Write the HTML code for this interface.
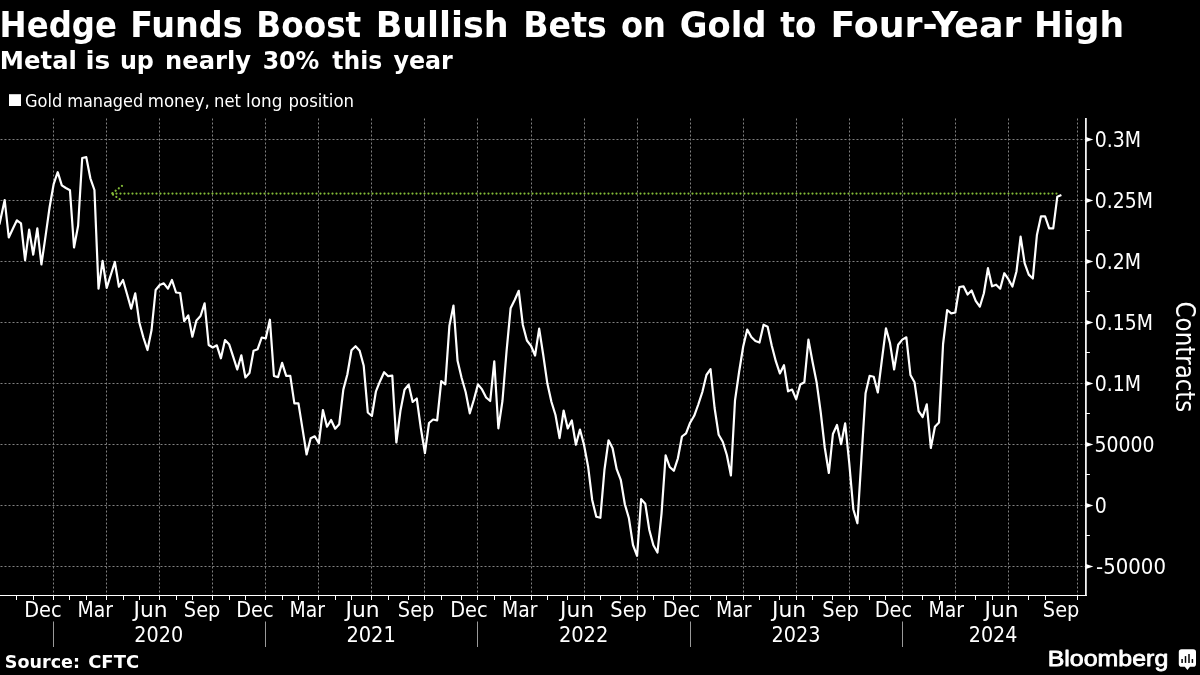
<!DOCTYPE html>
<html lang="en"><head><meta charset="utf-8"><title>Hedge Funds Boost Bullish Bets on Gold to Four-Year High</title>
<style>html,body{margin:0;padding:0;background:#000;overflow:hidden}svg{display:block}text{font-family:'DejaVu Sans Condensed', 'DejaVu Sans', 'Liberation Sans', sans-serif;fill:#fff;white-space:pre}</style>
</head><body>
<svg width="1200" height="675" viewBox="0 0 1200 675">
<rect width="1200" height="675" fill="#000"/>
<!-- headline -->
<text y="37.10" font-size="36.00" font-weight="bold"><tspan x="-0.38" textLength="117.33" lengthAdjust="spacingAndGlyphs">Hedge</tspan> <tspan x="130.28" textLength="112.29" lengthAdjust="spacingAndGlyphs">Funds</tspan> <tspan x="256.34" textLength="104.89" lengthAdjust="spacingAndGlyphs">Boost</tspan> <tspan x="375.65" textLength="132.96" lengthAdjust="spacingAndGlyphs">Bullish</tspan> <tspan x="523.30" textLength="83.52" lengthAdjust="spacingAndGlyphs">Bets</tspan> <tspan x="620.93" textLength="44.99" lengthAdjust="spacingAndGlyphs">on</tspan> <tspan x="679.75" textLength="86.79" lengthAdjust="spacingAndGlyphs">Gold</tspan> <tspan x="780.16" textLength="36.16" lengthAdjust="spacingAndGlyphs">to</tspan> <tspan x="830.52" textLength="190.99" lengthAdjust="spacingAndGlyphs">Four-Year</tspan> <tspan x="1033.93" textLength="90.15" lengthAdjust="spacingAndGlyphs">High</tspan></text>
<text y="68.60" font-size="25.30" font-weight="bold"><tspan x="-0.16" textLength="77.00" lengthAdjust="spacingAndGlyphs">Metal</tspan> <tspan x="85.44" textLength="24.86" lengthAdjust="spacingAndGlyphs">is</tspan> <tspan x="119.90" textLength="34.00" lengthAdjust="spacingAndGlyphs">up</tspan> <tspan x="165.12" textLength="85.80" lengthAdjust="spacingAndGlyphs">nearly</tspan> <tspan x="262.67" textLength="56.64" lengthAdjust="spacingAndGlyphs">30%</tspan> <tspan x="332.24" textLength="49.94" lengthAdjust="spacingAndGlyphs">this</tspan> <tspan x="393.49" textLength="59.35" lengthAdjust="spacingAndGlyphs">year</tspan></text>
<!-- legend -->
<rect x="9" y="94.2" width="12" height="11.8" fill="#fff"/>
<text y="106.80" font-size="17.60" font-weight="normal" fill="#f2f2f2"><tspan x="24.90" textLength="37.32" lengthAdjust="spacingAndGlyphs">Gold</tspan> <tspan x="67.27" textLength="75.93" lengthAdjust="spacingAndGlyphs">managed</tspan> <tspan x="147.78" textLength="62.00" lengthAdjust="spacingAndGlyphs">money,</tspan> <tspan x="214.04" textLength="26.94" lengthAdjust="spacingAndGlyphs">net</tspan> <tspan x="246.00" textLength="36.32" lengthAdjust="spacingAndGlyphs">long</tspan> <tspan x="288.53" textLength="65.57" lengthAdjust="spacingAndGlyphs">position</tspan></text>
<!-- grid -->
<g stroke="#808080" stroke-width="1" stroke-dasharray="2 2" stroke-dashoffset="3.5" fill="none">
<line x1="0" y1="139.5" x2="1084.9" y2="139.5"/>
<line x1="0" y1="200.5" x2="1084.9" y2="200.5"/>
<line x1="0" y1="261.5" x2="1084.9" y2="261.5"/>
<line x1="0" y1="322.5" x2="1084.9" y2="322.5"/>
<line x1="0" y1="383.5" x2="1084.9" y2="383.5"/>
<line x1="0" y1="444.5" x2="1084.9" y2="444.5"/>
<line x1="0" y1="505.5" x2="1084.9" y2="505.5"/>
<line x1="0" y1="566.5" x2="1084.9" y2="566.5"/>
<line x1="53.50" y1="118.0" x2="53.50" y2="595.5"/>
<line x1="106.50" y1="118.0" x2="106.50" y2="595.5"/>
<line x1="159.50" y1="118.0" x2="159.50" y2="595.5"/>
<line x1="212.50" y1="118.0" x2="212.50" y2="595.5"/>
<line x1="265.50" y1="118.0" x2="265.50" y2="595.5"/>
<line x1="318.50" y1="118.0" x2="318.50" y2="595.5"/>
<line x1="371.50" y1="118.0" x2="371.50" y2="595.5"/>
<line x1="424.50" y1="118.0" x2="424.50" y2="595.5"/>
<line x1="477.50" y1="118.0" x2="477.50" y2="595.5"/>
<line x1="531.50" y1="118.0" x2="531.50" y2="595.5"/>
<line x1="584.50" y1="118.0" x2="584.50" y2="595.5"/>
<line x1="637.50" y1="118.0" x2="637.50" y2="595.5"/>
<line x1="690.50" y1="118.0" x2="690.50" y2="595.5"/>
<line x1="743.50" y1="118.0" x2="743.50" y2="595.5"/>
<line x1="796.50" y1="118.0" x2="796.50" y2="595.5"/>
<line x1="849.50" y1="118.0" x2="849.50" y2="595.5"/>
<line x1="902.50" y1="118.0" x2="902.50" y2="595.5"/>
<line x1="955.50" y1="118.0" x2="955.50" y2="595.5"/>
<line x1="1008.50" y1="118.0" x2="1008.50" y2="595.5"/>
<line x1="1077.50" y1="118.0" x2="1077.50" y2="595.5"/>
</g>
<!-- four-year-high marker -->
<g stroke="#84bd38" stroke-width="2.2" stroke-linecap="round" stroke-dasharray="0.01 3.99" fill="none">
<line x1="1056.5" y1="193.6" x2="112" y2="193.6"/>
<line x1="112.5" y1="193.2" x2="122.5" y2="185.4"/>
<line x1="113" y1="194.6" x2="120.5" y2="199.6"/>
</g>
<!-- series -->
<path d="M-0.60 224.60 L0.60 219.00 L4.68 200.00 L8.76 237.50 L12.84 228.80 L16.92 220.30 L21.00 223.30 L25.08 260.20 L29.16 229.70 L33.24 254.70 L37.32 228.30 L41.40 264.50 L45.48 236.70 L49.56 207.50 L53.64 184.20 L57.72 172.20 L61.80 185.30 L65.88 188.00 L69.96 190.30 L74.04 247.50 L78.12 225.80 L82.20 158.00 L86.28 157.20 L90.36 178.30 L94.44 190.00 L98.52 288.70 L102.60 260.80 L106.68 287.80 L110.76 275.00 L114.84 262.00 L118.92 286.70 L123.00 280.00 L127.08 294.20 L131.16 308.70 L135.24 293.30 L139.32 322.50 L143.40 337.50 L147.48 350.00 L151.56 330.00 L155.64 290.00 L159.72 285.00 L163.80 283.30 L167.88 288.70 L171.96 280.00 L176.04 292.50 L180.12 293.00 L184.20 321.20 L188.28 315.40 L192.36 336.70 L196.44 320.40 L200.52 316.00 L204.60 303.30 L208.68 345.00 L212.76 347.50 L216.84 345.30 L220.92 358.30 L225.00 340.00 L229.08 344.20 L233.16 356.70 L237.24 369.50 L241.32 355.30 L245.40 377.50 L249.48 373.10 L253.56 350.80 L257.64 349.20 L261.72 337.50 L265.80 338.30 L269.88 319.70 L273.96 376.00 L278.04 377.10 L282.12 362.80 L286.20 375.80 L290.28 375.80 L294.36 403.30 L298.44 403.30 L302.52 428.80 L306.60 454.50 L310.68 438.30 L314.76 436.30 L318.84 443.30 L322.92 410.00 L327.00 426.70 L331.08 420.00 L335.16 428.70 L339.24 424.20 L343.32 389.60 L347.40 374.20 L351.48 350.30 L355.56 346.20 L359.64 350.80 L363.72 365.80 L367.80 412.50 L371.88 416.00 L375.96 391.30 L380.04 381.20 L384.12 372.20 L388.20 376.20 L392.28 375.60 L396.36 442.50 L400.44 410.80 L404.52 389.80 L408.60 384.60 L412.68 402.00 L416.76 398.50 L420.84 428.30 L424.92 453.00 L429.00 423.00 L433.08 419.50 L437.16 420.30 L441.24 381.20 L445.32 384.40 L449.40 325.80 L453.48 305.50 L457.56 360.80 L461.64 378.00 L465.72 392.20 L469.80 413.30 L473.88 399.70 L477.96 384.40 L482.04 389.40 L486.12 397.50 L490.20 401.00 L494.28 361.30 L498.36 428.30 L502.44 401.00 L506.52 351.70 L510.60 308.30 L514.68 300.00 L518.76 290.80 L522.84 325.00 L526.92 340.50 L531.00 345.80 L535.08 355.50 L539.16 328.70 L543.24 355.00 L547.32 383.30 L551.40 401.70 L555.48 415.00 L559.56 438.10 L563.64 410.50 L567.72 428.50 L571.80 420.50 L575.88 444.70 L579.96 429.50 L584.04 445.00 L588.12 466.70 L592.20 500.00 L596.28 516.70 L600.36 517.80 L604.44 470.00 L608.52 440.30 L612.60 448.30 L616.68 469.20 L620.76 479.80 L624.84 504.20 L628.92 518.30 L633.00 545.00 L637.08 555.80 L641.16 499.20 L645.24 503.70 L649.32 530.00 L653.40 545.30 L657.48 552.50 L661.56 513.30 L665.64 455.30 L669.72 467.00 L673.80 470.80 L677.88 458.30 L681.96 436.50 L686.04 433.30 L690.12 422.70 L694.20 415.80 L698.28 404.50 L702.36 392.00 L706.44 375.00 L710.52 369.20 L714.60 408.00 L718.68 434.80 L722.76 441.80 L726.84 455.00 L730.92 475.50 L735.00 400.50 L739.08 372.00 L743.16 346.70 L747.24 329.50 L751.32 337.00 L755.40 341.00 L759.48 342.50 L763.56 324.70 L767.64 326.70 L771.72 345.50 L775.80 361.20 L779.88 373.50 L783.96 365.20 L788.04 391.30 L792.12 389.60 L796.20 399.30 L800.28 384.50 L804.36 382.20 L808.44 339.60 L812.52 361.70 L816.60 382.20 L820.68 412.00 L824.76 447.50 L828.84 473.00 L832.92 434.00 L837.00 425.00 L841.08 444.20 L845.16 423.30 L849.24 463.00 L853.32 509.20 L857.40 523.30 L861.48 457.50 L865.56 393.30 L869.64 375.80 L873.72 376.70 L877.80 392.50 L881.88 360.00 L885.96 328.30 L890.04 343.30 L894.12 369.50 L898.20 344.70 L902.28 339.60 L906.36 337.30 L910.44 375.00 L914.52 382.20 L918.60 411.20 L922.68 417.00 L926.76 404.30 L930.84 448.00 L934.92 426.70 L939.00 422.50 L943.08 344.00 L947.16 310.00 L951.24 313.30 L955.32 312.50 L959.40 287.00 L963.48 286.30 L967.56 294.50 L971.64 290.50 L975.72 300.80 L979.80 306.70 L983.88 293.30 L987.96 268.20 L992.04 286.30 L996.12 284.70 L1000.20 288.70 L1004.28 273.20 L1008.36 279.20 L1012.44 286.50 L1016.52 271.20 L1020.60 236.70 L1024.68 263.30 L1028.76 274.60 L1032.84 278.50 L1036.92 235.00 L1041.00 216.30 L1045.08 216.30 L1049.16 228.30 L1053.24 228.30 L1057.32 196.70 L1061.40 195.00" fill="none" stroke="#fff" stroke-width="2.2" stroke-linejoin="round" stroke-linecap="butt"/>
<!-- axes -->
<g stroke="#fff" fill="none">
<line x1="1085.90" y1="118.0" x2="1085.90" y2="596.1" stroke-width="1.7"/>
<line x1="0" y1="595.5" x2="1086.8" y2="595.5" stroke-width="1.2"/>
<line x1="16.50" y1="595.5" x2="16.50" y2="600.0" stroke-width="1"/>
<line x1="33.50" y1="595.5" x2="33.50" y2="600.0" stroke-width="1"/>
<line x1="53.50" y1="595.5" x2="53.50" y2="600.0" stroke-width="1"/>
<line x1="69.50" y1="595.5" x2="69.50" y2="600.0" stroke-width="1"/>
<line x1="86.50" y1="595.5" x2="86.50" y2="600.0" stroke-width="1"/>
<line x1="106.50" y1="595.5" x2="106.50" y2="600.0" stroke-width="1"/>
<line x1="123.50" y1="595.5" x2="123.50" y2="600.0" stroke-width="1"/>
<line x1="139.50" y1="595.5" x2="139.50" y2="600.0" stroke-width="1"/>
<line x1="159.50" y1="595.5" x2="159.50" y2="600.0" stroke-width="1"/>
<line x1="176.50" y1="595.5" x2="176.50" y2="600.0" stroke-width="1"/>
<line x1="192.50" y1="595.5" x2="192.50" y2="600.0" stroke-width="1"/>
<line x1="212.50" y1="595.5" x2="212.50" y2="600.0" stroke-width="1"/>
<line x1="229.50" y1="595.5" x2="229.50" y2="600.0" stroke-width="1"/>
<line x1="245.50" y1="595.5" x2="245.50" y2="600.0" stroke-width="1"/>
<line x1="265.50" y1="595.5" x2="265.50" y2="600.0" stroke-width="1"/>
<line x1="282.50" y1="595.5" x2="282.50" y2="600.0" stroke-width="1"/>
<line x1="298.50" y1="595.5" x2="298.50" y2="600.0" stroke-width="1"/>
<line x1="318.50" y1="595.5" x2="318.50" y2="600.0" stroke-width="1"/>
<line x1="335.50" y1="595.5" x2="335.50" y2="600.0" stroke-width="1"/>
<line x1="351.50" y1="595.5" x2="351.50" y2="600.0" stroke-width="1"/>
<line x1="371.50" y1="595.5" x2="371.50" y2="600.0" stroke-width="1"/>
<line x1="388.50" y1="595.5" x2="388.50" y2="600.0" stroke-width="1"/>
<line x1="408.50" y1="595.5" x2="408.50" y2="600.0" stroke-width="1"/>
<line x1="424.50" y1="595.5" x2="424.50" y2="600.0" stroke-width="1"/>
<line x1="441.50" y1="595.5" x2="441.50" y2="600.0" stroke-width="1"/>
<line x1="461.50" y1="595.5" x2="461.50" y2="600.0" stroke-width="1"/>
<line x1="477.50" y1="595.5" x2="477.50" y2="600.0" stroke-width="1"/>
<line x1="494.50" y1="595.5" x2="494.50" y2="600.0" stroke-width="1"/>
<line x1="510.50" y1="595.5" x2="510.50" y2="600.0" stroke-width="1"/>
<line x1="531.50" y1="595.5" x2="531.50" y2="600.0" stroke-width="1"/>
<line x1="547.50" y1="595.5" x2="547.50" y2="600.0" stroke-width="1"/>
<line x1="567.50" y1="595.5" x2="567.50" y2="600.0" stroke-width="1"/>
<line x1="584.50" y1="595.5" x2="584.50" y2="600.0" stroke-width="1"/>
<line x1="600.50" y1="595.5" x2="600.50" y2="600.0" stroke-width="1"/>
<line x1="620.50" y1="595.5" x2="620.50" y2="600.0" stroke-width="1"/>
<line x1="637.50" y1="595.5" x2="637.50" y2="600.0" stroke-width="1"/>
<line x1="653.50" y1="595.5" x2="653.50" y2="600.0" stroke-width="1"/>
<line x1="673.50" y1="595.5" x2="673.50" y2="600.0" stroke-width="1"/>
<line x1="690.50" y1="595.5" x2="690.50" y2="600.0" stroke-width="1"/>
<line x1="710.50" y1="595.5" x2="710.50" y2="600.0" stroke-width="1"/>
<line x1="726.50" y1="595.5" x2="726.50" y2="600.0" stroke-width="1"/>
<line x1="743.50" y1="595.5" x2="743.50" y2="600.0" stroke-width="1"/>
<line x1="759.50" y1="595.5" x2="759.50" y2="600.0" stroke-width="1"/>
<line x1="779.50" y1="595.5" x2="779.50" y2="600.0" stroke-width="1"/>
<line x1="796.50" y1="595.5" x2="796.50" y2="600.0" stroke-width="1"/>
<line x1="812.50" y1="595.5" x2="812.50" y2="600.0" stroke-width="1"/>
<line x1="832.50" y1="595.5" x2="832.50" y2="600.0" stroke-width="1"/>
<line x1="849.50" y1="595.5" x2="849.50" y2="600.0" stroke-width="1"/>
<line x1="869.50" y1="595.5" x2="869.50" y2="600.0" stroke-width="1"/>
<line x1="885.50" y1="595.5" x2="885.50" y2="600.0" stroke-width="1"/>
<line x1="902.50" y1="595.5" x2="902.50" y2="600.0" stroke-width="1"/>
<line x1="922.50" y1="595.5" x2="922.50" y2="600.0" stroke-width="1"/>
<line x1="939.50" y1="595.5" x2="939.50" y2="600.0" stroke-width="1"/>
<line x1="955.50" y1="595.5" x2="955.50" y2="600.0" stroke-width="1"/>
<line x1="975.50" y1="595.5" x2="975.50" y2="600.0" stroke-width="1"/>
<line x1="992.50" y1="595.5" x2="992.50" y2="600.0" stroke-width="1"/>
<line x1="1008.50" y1="595.5" x2="1008.50" y2="600.0" stroke-width="1"/>
<line x1="1028.50" y1="595.5" x2="1028.50" y2="600.0" stroke-width="1"/>
<line x1="1045.50" y1="595.5" x2="1045.50" y2="600.0" stroke-width="1"/>
<line x1="1077.50" y1="595.5" x2="1077.50" y2="600.0" stroke-width="1"/>
<line x1="1085.9" y1="169.5" x2="1089.9" y2="169.5" stroke-width="1"/>
<line x1="1085.9" y1="230.5" x2="1089.9" y2="230.5" stroke-width="1"/>
<line x1="1085.9" y1="291.5" x2="1089.9" y2="291.5" stroke-width="1"/>
<line x1="1085.9" y1="352.5" x2="1089.9" y2="352.5" stroke-width="1"/>
<line x1="1085.9" y1="413.5" x2="1089.9" y2="413.5" stroke-width="1"/>
<line x1="1085.9" y1="474.5" x2="1089.9" y2="474.5" stroke-width="1"/>
<line x1="1085.9" y1="535.5" x2="1089.9" y2="535.5" stroke-width="1"/>
</g>
<g stroke="#9a9a9a" stroke-width="1" fill="none">
<line x1="53.50" y1="621.5" x2="53.50" y2="647"/>
<line x1="265.50" y1="621.5" x2="265.50" y2="647"/>
<line x1="477.50" y1="621.5" x2="477.50" y2="647"/>
<line x1="690.50" y1="621.5" x2="690.50" y2="647"/>
<line x1="902.50" y1="621.5" x2="902.50" y2="647"/>
</g>
<!-- y axis labels -->
<path d="M1085.9 136.9 L1093.4 139.5 L1085.9 142.1 Z" fill="#fff"/>
<text y="147.3" font-size="21"><tspan x="1094.75" textLength="46.37" lengthAdjust="spacingAndGlyphs">0.3M</tspan></text>
<path d="M1085.9 197.9 L1093.4 200.5 L1085.9 203.1 Z" fill="#fff"/>
<text y="208.3" font-size="21"><tspan x="1094.75" textLength="58.15" lengthAdjust="spacingAndGlyphs">0.25M</tspan></text>
<path d="M1085.9 258.9 L1093.4 261.5 L1085.9 264.1 Z" fill="#fff"/>
<text y="269.3" font-size="21"><tspan x="1094.75" textLength="46.37" lengthAdjust="spacingAndGlyphs">0.2M</tspan></text>
<path d="M1085.9 319.9 L1093.4 322.5 L1085.9 325.1 Z" fill="#fff"/>
<text y="330.3" font-size="21"><tspan x="1094.75" textLength="58.15" lengthAdjust="spacingAndGlyphs">0.15M</tspan></text>
<path d="M1085.9 380.9 L1093.4 383.5 L1085.9 386.1 Z" fill="#fff"/>
<text y="391.3" font-size="21"><tspan x="1094.75" textLength="46.37" lengthAdjust="spacingAndGlyphs">0.1M</tspan></text>
<path d="M1085.9 441.9 L1093.4 444.5 L1085.9 447.1 Z" fill="#fff"/>
<text y="452.3" font-size="21"><tspan x="1094.54" textLength="59.95" lengthAdjust="spacingAndGlyphs">50000</tspan></text>
<path d="M1085.9 502.9 L1093.4 505.5 L1085.9 508.1 Z" fill="#fff"/>
<text y="513.3" font-size="21"><tspan x="1094.75" textLength="12.05" lengthAdjust="spacingAndGlyphs">0</tspan></text>
<path d="M1085.9 563.9 L1093.4 566.5 L1085.9 569.1 Z" fill="#fff"/>
<text y="574.3" font-size="21"><tspan x="1096.12" textLength="69.82" lengthAdjust="spacingAndGlyphs">-50000</tspan></text>
<!-- x axis labels -->
<text y="617.1" font-size="21"><tspan x="24.18" textLength="37.50" lengthAdjust="spacingAndGlyphs">Dec</tspan> <tspan x="77.53" textLength="35.45" lengthAdjust="spacingAndGlyphs">Mar</tspan> <tspan x="133.61" textLength="34.09" lengthAdjust="spacingAndGlyphs">Jun</tspan> <tspan x="183.88" textLength="36.46" lengthAdjust="spacingAndGlyphs">Sep</tspan> <tspan x="236.18" textLength="37.50" lengthAdjust="spacingAndGlyphs">Dec</tspan> <tspan x="289.53" textLength="35.45" lengthAdjust="spacingAndGlyphs">Mar</tspan> <tspan x="345.61" textLength="34.09" lengthAdjust="spacingAndGlyphs">Jun</tspan> <tspan x="397.88" textLength="36.46" lengthAdjust="spacingAndGlyphs">Sep</tspan> <tspan x="450.18" textLength="37.50" lengthAdjust="spacingAndGlyphs">Dec</tspan> <tspan x="502.03" textLength="35.45" lengthAdjust="spacingAndGlyphs">Mar</tspan> <tspan x="560.11" textLength="34.09" lengthAdjust="spacingAndGlyphs">Jun</tspan> <tspan x="610.38" textLength="36.46" lengthAdjust="spacingAndGlyphs">Sep</tspan> <tspan x="662.68" textLength="37.50" lengthAdjust="spacingAndGlyphs">Dec</tspan> <tspan x="716.03" textLength="35.45" lengthAdjust="spacingAndGlyphs">Mar</tspan> <tspan x="772.11" textLength="34.09" lengthAdjust="spacingAndGlyphs">Jun</tspan> <tspan x="822.38" textLength="36.46" lengthAdjust="spacingAndGlyphs">Sep</tspan> <tspan x="874.68" textLength="37.50" lengthAdjust="spacingAndGlyphs">Dec</tspan> <tspan x="928.53" textLength="35.45" lengthAdjust="spacingAndGlyphs">Mar</tspan> <tspan x="984.61" textLength="34.09" lengthAdjust="spacingAndGlyphs">Jun</tspan> <tspan x="1042.88" textLength="36.46" lengthAdjust="spacingAndGlyphs">Sep</tspan></text>
<text y="642.2" font-size="21"><tspan x="134.32" textLength="48.79" lengthAdjust="spacingAndGlyphs">2020</tspan> <tspan x="346.40" textLength="49.47" lengthAdjust="spacingAndGlyphs">2021</tspan> <tspan x="558.90" textLength="49.47" lengthAdjust="spacingAndGlyphs">2022</tspan> <tspan x="771.42" textLength="49.02" lengthAdjust="spacingAndGlyphs">2023</tspan> <tspan x="968.83" textLength="48.57" lengthAdjust="spacingAndGlyphs">2024</tspan></text>
<text transform="translate(1175.9 302.8) rotate(90)" font-size="26.4"><tspan x="-1.28" textLength="110.77" lengthAdjust="spacingAndGlyphs">Contracts</tspan></text>
<!-- footer -->
<text y="667.80" font-size="17.00" font-weight="bold"><tspan x="4.83" textLength="75.22" lengthAdjust="spacingAndGlyphs">Source:</tspan> <tspan x="88.20" textLength="50.90" lengthAdjust="spacingAndGlyphs">CFTC</tspan></text>
<text x="1047.7" y="666.4" font-size="22.4" textLength="120.6" lengthAdjust="spacingAndGlyphs" stroke="#fff" stroke-width="0.8" stroke-linejoin="round" style="font-family:'Liberation Sans',sans-serif">Bloomberg</text>
<g>
<path d="M1181.6 649.3 h11.6 a2.8 2.8 0 0 1 2.8 2.8 v11.8 a2.8 2.8 0 0 1 -2.8 2.8 h-3.2 l-2.6 3.3 l-2.6 -3.3 h-3.2 a2.8 2.8 0 0 1 -2.8 -2.8 v-11.8 a2.8 2.8 0 0 1 2.8 -2.8 z" fill="#fff"/>
<g stroke="#000" stroke-width="1.5" stroke-linecap="butt"><line x1="1182.1" y1="659" x2="1182.1" y2="662.9"/><line x1="1185.5" y1="656.1" x2="1185.5" y2="662.9"/><line x1="1189" y1="654" x2="1189" y2="662.9"/><line x1="1192.4" y1="659" x2="1192.4" y2="662.9"/></g>
</g>
</svg>
</body></html>
